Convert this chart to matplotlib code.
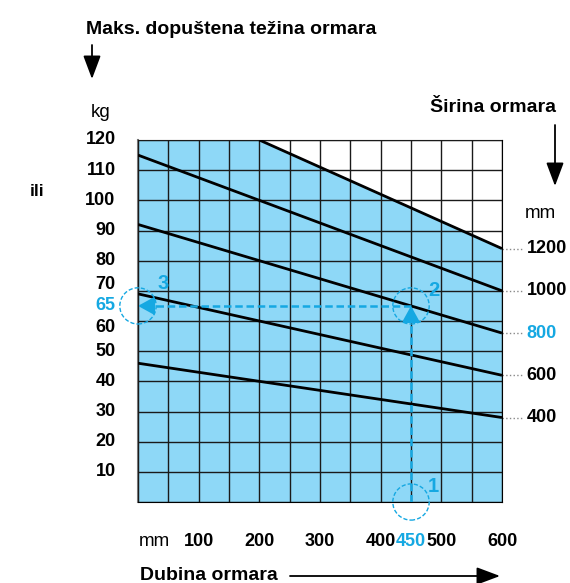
import numpy as np
import matplotlib
matplotlib.use('Agg')
import matplotlib.pyplot as plt
from matplotlib.patches import Ellipse, FancyArrowPatch

# Data.
depth_mm = [0, 600]
# Cabinet width (mm) -> max. permitted load (kg) at depth 0 and 600 mm.
width_labels = ['400', '600', '800', '1000', '1200']
load_400 = [46, 28]
load_600 = [69, 42]
load_800 = [92, 56]
load_1000 = [115, 70]
# The 1200 line starts at the 120 kg limit.
depth_1200 = [200, 600]
load_1200 = [120, 84]

x_ticks = [100, 200, 300, 400, 450, 500, 600]
y_ticks = [120, 110, 100, 90, 80, 70, 65, 60, 50, 40, 30, 20, 10]
example_depth = 450
example_width = '800'
example_load = 65

fill_color = '#8ed8f7'
hl_color = '#15a8e2'

plt.rcParams['font.family'] = ['Liberation Sans', 'DejaVu Sans']

fig = plt.figure(figsize=(5.7, 5.83), dpi=100)
ax = fig.add_axes([138 / 570, 81 / 583, 364 / 570, 362 / 583])
ax.set_xlim(0, 600)
ax.set_ylim(0, 120)

# Permitted region.
fx = np.array([0, depth_1200[0], depth_1200[1]])
fy = np.array([120, load_1200[0], load_1200[1]])
ax.fill_between(fx, 0, fy, color=fill_color, lw=0, zorder=1)

ax.set_xticks(np.arange(0, 601, 50))
ax.set_yticks(np.arange(0, 121, 10))
ax.grid(True, color='#1a1a1a', lw=1.0, zorder=2)
ax.set_axisbelow(False)
ax.tick_params(length=0, labelbottom=False, labelleft=False)
for s in ['top', 'right', 'bottom']:
	ax.spines[s].set_color('black')
ax.spines['left'].set_color('#777777')
ax.spines['left'].set_linewidth(1.5)

lines = [(depth_mm, load_400), (depth_mm, load_600), (depth_mm, load_800),
	(depth_mm, load_1000), (depth_1200, load_1200)]
for (xs, ys) in lines:
	ax.plot(xs, ys, color='black', lw=2, zorder=3, solid_capstyle='butt')

# Right-side width labels with dotted leaders.
for lab, (xs, ys) in zip(width_labels, lines):
	c = hl_color if lab == example_width else 'black'
	ax.plot([600, 637], [ys[-1], ys[-1]], ls=':', color='#888888', lw=1, clip_on=False)
	ax.text(641, ys[-1], lab, color=c, fontsize=13, fontweight='bold', ha='left', va='center')

# Y labels (70 and 60 nudged apart to make room for 65).
y_pos = {70: 72, 60: 58}
for v in y_ticks:
	c = hl_color if v == example_load else 'black'
	ax.text(-37, y_pos.get(v, v), str(v), color=c, fontsize=13, fontweight='bold', ha='right', va='center')

# X labels.
for v in x_ticks:
	c = hl_color if v == example_depth else 'black'
	ax.text(v, -13, str(v), color=c, fontsize=13, fontweight='bold', ha='center', va='center')
ax.text(2, -13, 'mm', fontsize=13.5, ha='left', va='center')

# Example reading: 1 -> 2 -> 3.
ax.plot([example_depth, example_depth], [0, example_load - 4], ls=(0, (3, 1.5)), color=hl_color, lw=1.8, zorder=4)
ax.plot([example_depth, 24], [example_load, example_load], ls=(0, (3, 1.5)), color=hl_color, lw=1.8, zorder=4)
ax.annotate('', xy=(example_depth, example_load), xytext=(example_depth, example_load - 4),
	arrowprops=dict(arrowstyle='-|>,head_length=1.0,head_width=0.55', color=hl_color, lw=1.5,
	shrinkA=0, shrinkB=0, mutation_scale=10), zorder=5)
ax.annotate('', xy=(0, example_load), xytext=(24, example_load),
	arrowprops=dict(arrowstyle='-|>,head_length=1.0,head_width=0.55', color=hl_color, lw=1.5,
	shrinkA=0, shrinkB=0, mutation_scale=10), zorder=5, annotation_clip=False)
for (cx, cy) in [(example_depth, 0), (example_depth, example_load), (0, example_load)]:
	ax.add_patch(Ellipse((cx, cy), 60, 12, fill=False, ls=(0, (3, 1.5)), ec=hl_color, lw=1, clip_on=False, zorder=5))
ax.text(487, 5, '1', color=hl_color, fontsize=14.5, fontweight='bold', ha='center', va='center')
ax.text(487, 70, '2', color=hl_color, fontsize=14.5, fontweight='bold', ha='center', va='center')
ax.text(42, 72.5, '3', color=hl_color, fontsize=14.5, fontweight='bold', ha='center', va='center')

# Headings and arrows (figure pixel coordinates).
def fp(x, y):
	return (x / 570, 1 - y / 583)

fig.text(*fp(86, 30), 'Maks. dopuštena težina ormara', fontsize=14, fontweight='bold', ha='left', va='center')
fig.text(*fp(91, 113), 'kg', fontsize=13.5, ha='left', va='center')
fig.text(*fp(37, 191), 'ili', fontsize=12.5, fontweight='bold', ha='center', va='center')
fig.text(*fp(556, 108), 'Širina ormara', fontsize=14, fontweight='bold', ha='right', va='center')
fig.text(*fp(556, 213), 'mm', fontsize=13.5, ha='right', va='center')
fig.text(*fp(140, 576), 'Dubina ormara', fontsize=14, fontweight='bold', ha='left', va='center')

arrow = dict(arrowstyle='-|>,head_length=1.2,head_width=0.45', color='black', lw=1.3,
	shrinkA=0, shrinkB=0, mutation_scale=12)
fig.add_artist(FancyArrowPatch(fp(92, 45), fp(92, 79), transform=fig.transFigure, **arrow))
fig.add_artist(FancyArrowPatch(fp(555, 125), fp(555, 186), transform=fig.transFigure, **arrow))
fig.add_artist(FancyArrowPatch(fp(290, 576), fp(500, 576), transform=fig.transFigure, **arrow))

fig.savefig('out.png', dpi=100)
